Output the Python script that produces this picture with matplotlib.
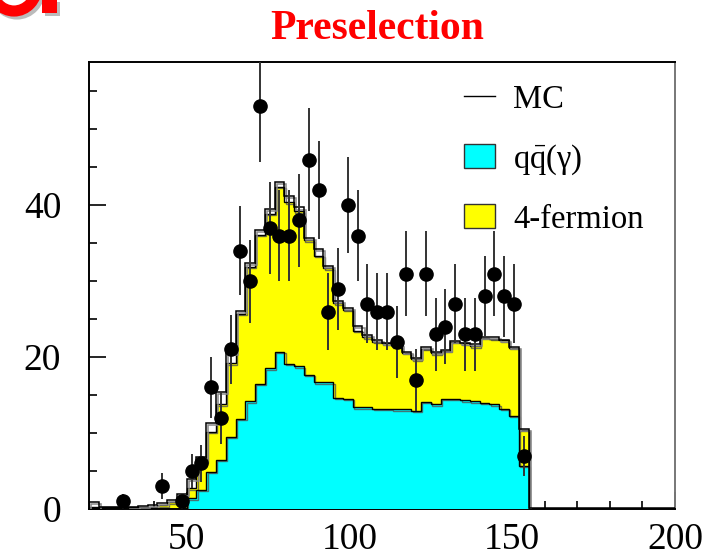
import numpy as np
import matplotlib
matplotlib.use("Agg")
import matplotlib.pyplot as plt
from matplotlib.lines import Line2D
from matplotlib.patches import Patch, Ellipse, Rectangle
import matplotlib.patheffects as pe

plt.rcParams['font.family'] = ['Liberation Serif', 'DejaVu Serif']
plt.rcParams['mathtext.fontset'] = 'custom'
plt.rcParams['mathtext.rm'] = 'Liberation Serif'
plt.rcParams['mathtext.it'] = 'Liberation Serif:italic'

# ---- data (60 bins of 3 GeV from 20 to 200) ----
bin_edges = np.arange(20, 201, 3)

qq_gamma = [0, 0, 0, 0, 0, 0, 0, 0, 0, 0,
            1.4, 2.5, 4.9, 6.5, 9.5, 11.9, 14.2, 16.5, 18.5, 20.7,
            19.1, 18.8, 17.7, 16.7, 16.7, 14.6, 14.5, 13.4, 13.4, 13.2,
            13.2, 13.1, 13.1, 12.9, 14.1, 13.8, 14.5, 14.5, 14.3, 14.2,
            14.0, 13.8, 13.2, 12.3, 5.7, 0, 0, 0, 0, 0,
            0, 0, 0, 0, 0, 0, 0, 0, 0, 0]

# stacked total qq(gamma) + 4-fermion
stack_total = [0.25, 0.2, 0.2, 0.2, 0.3, 0.3, 0.3, 0.5, 0.9, 1.3,
               2.7, 6.3, 10.2, 13.8, 19.2, 25.7, 31.9, 36.1, 38.9, 42.4,
               40.4, 39.2, 35.4, 33.3, 31.7, 27.1, 26.2, 23.5, 22.6, 22.0,
               21.8, 21.4, 20.6, 19.7, 21.1, 20.5, 20.8, 22.0, 21.8, 21.4,
               22.5, 22.4, 22.2, 21.2, 10.4, 0, 0, 0, 0, 0,
               0, 0, 0, 0, 0, 0, 0, 0, 0, 0]

mc_total = [0.9, 0.2, 0.2, 0.2, 0.3, 0.4, 0.5, 0.8, 1.2, 2.0,
            3.9, 6.8, 11.3, 15.4, 20.5, 26.1, 32.4, 36.7, 39.5, 43.0,
            41.2, 39.7, 35.7, 34.2, 32.0, 27.4, 26.5, 24.1, 22.9, 22.3,
            21.9, 21.6, 20.7, 19.9, 21.3, 20.7, 20.9, 22.1, 21.9, 21.7,
            22.7, 22.6, 22.3, 21.3, 10.5, 0.1, 0.1, 0.1, 0.1, 0.1,
            0.1, 0.1, 0.1, 0.1, 0.1, 0.1, 0.1, 0.1, 0.1, 0.1]

data_counts = [0, 0, 0, 1, 0, 0, 0, 3, 0, 1,
               5, 6, 16, 12, 21, 34, 30, 53, 37, 36,
               36, 38, 46, 42, 26, 29, 40, 36, 27, 26,
               26, 22, 31, 17, 31, 23, 24, 27, 23, 23,
               28, 31, 28, 27, 7, 0, 0, 0, 0, 0,
               0, 0, 0, 0, 0, 0, 0, 0, 0, 0]

x_ticks = [50, 100, 150, 200]
y_ticks = [0, 20, 40]
legend_labels = ['MC', r'$\mathrm{q\bar{q}(\gamma)}$', '4-fermion']
title = 'Preselection'

# ---- figure ----
W, H = 724, 557
fig = plt.figure(figsize=(W / 100, H / 100), dpi=100)
L, R, T, B = 89, 675, 62, 509
ax = fig.add_axes([L / W, 1 - B / H, (R - L) / W, (B - T) / H])

edges = bin_edges
ax.stairs(stack_total, edges, fill=True, facecolor='#ffff00', edgecolor='none', zorder=2)
ax.stairs(stack_total, edges, color='black', lw=1.0, zorder=2.1,
          path_effects=[pe.SimpleLineShadow(offset=(1, -1), shadow_color='#555555', alpha=0.8), pe.Normal()])
ax.stairs(qq_gamma, edges, fill=True, facecolor='#00ffff', edgecolor='none', zorder=3)
ax.stairs(qq_gamma, edges, color='black', lw=1.0, zorder=3.1,
          path_effects=[pe.SimpleLineShadow(offset=(1, -1), shadow_color='#555555', alpha=0.8), pe.Normal()])
ax.stairs(mc_total, edges, color='black', lw=1.1, zorder=4,
          path_effects=[pe.SimpleLineShadow(offset=(1.5, -1.5), shadow_color='#888888', alpha=1.0), pe.Normal()])

centers = 0.5 * (edges[:-1] + edges[1:])
dc = np.array(data_counts, dtype=float)
m = dc > 0
ax.errorbar(centers[m], dc[m], yerr=np.sqrt(dc[m]), fmt='o', color='black',
            ms=9.5, ecolor='#333333', elinewidth=1.4, capsize=0, zorder=5, clip_on=True)

ax.set_xlim(20, 200)
ax.set_ylim(0, 58.85)
ax.set_xticks(x_ticks)
ax.set_yticks(y_ticks)
ax.set_xticks(np.arange(30, 200, 10), minor=True)
ax.set_yticks(np.arange(5, 58, 5), minor=True)
ax.tick_params(which='both', direction='in', top=False, right=False, labelsize=27, width=1.2)
ax.tick_params(which='major', length=12.5)
ax.tick_params(which='minor', length=6)
ax.tick_params(axis='x', pad=10)
ax.tick_params(axis='y', pad=20)
for s in ax.spines.values():
    s.set_linewidth(1.4)
ax.spines['right'].set_color('#777777')

handles = [Line2D([], [], color='black', lw=1.0),
           Patch(facecolor='#00ffff', edgecolor='#333333', lw=1.0),
           Patch(facecolor='#ffff00', edgecolor='#333333', lw=1.0)]
ax.legend(handles, legend_labels, loc='upper left', bbox_to_anchor=((464 - L) / (R - L), 1 - (84 - T) / (B - T)),
          frameon=False, fontsize=23.5, handlelength=0.96, handleheight=0.78,
          handletextpad=0.55, labelspacing=0.84, borderpad=0, borderaxespad=0)

fig.text(377 / W, 1 - 29 / H, title, ha='center', va='center', color='red',
         fontsize=30, fontweight='bold')

# cropped logo fragment in the top-left corner
def px(x, y):
    return (x / W, 1 - y / H)

for dx, dy, col in [(3, 3, '#bbbbbb'), (0, 0, '#ff0000')]:
    fig.patches.append(Ellipse(px(14 + dx, -14 + dy), 46 / W, 50 / H, transform=fig.transFigure,
                               facecolor='none', edgecolor=col, lw=8, zorder=1 if dx else 2))
    fig.patches.append(Rectangle(px(42 + dx, 13 + dy), 15 / W, 14 / H, transform=fig.transFigure,
                                 facecolor=col, edgecolor='none', zorder=1 if dx else 2))

fig.savefig('out.png', dpi=100)
